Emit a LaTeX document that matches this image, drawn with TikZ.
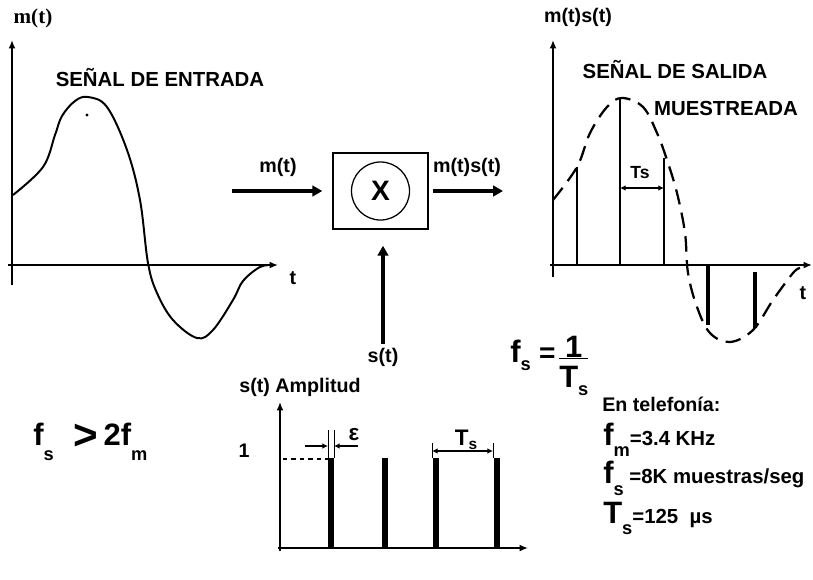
\documentclass[tikz,border=0pt]{standalone}
\usepackage{fontspec}
\setmainfont{Liberation Sans}
\newfontfamily\serifbf{Liberation Serif}
\usetikzlibrary{arrows.meta,positioning,calc}
\newcommand{\fsub}[3][7pt]{{\fontsize{22}{24}\selectfont #2}\raisebox{-#1}{\fontsize{13}{14}\selectfont #3}}

\begin{document}
\begin{tikzpicture}[x=0.025cm, y=-0.025cm,
    lbl/.style={font=\bfseries\fontsize{14}{16}\selectfont, inner sep=0pt},
    title/.style={font=\bfseries\fontsize{14.5}{17}\selectfont, inner sep=0pt},
    big/.style={font=\bfseries, inner sep=0pt, anchor=base west},
    axis/.style={line width=1.8pt, -{Latex[length=6pt,width=5pt]}},
    sigarr/.style={line width=2.4pt, -{Triangle[length=7pt,width=7.5pt]}},
    dimarr/.style={line width=1.3pt, {Latex[length=4pt,width=4pt]}-{Latex[length=4pt,width=4pt]}},
    sample/.style={line width=2pt},
    pulse/.style={line width=3.6pt}
]
    \useasboundingbox (0,0) rectangle (813,579);

    % senal de entrada
    \draw[axis] (12,285) -- (12,40);
    \draw[axis] (8,265) -- (278,265);
    \node[font=\serifbf\bfseries\fontsize{15}{17}\selectfont, inner sep=0pt] (mlbl) at (33,18) {m(t)};
    \node[title] (entrada) at (160,78) {SEÑAL DE ENTRADA};
    \node[lbl] (tl) at (293,278) {t};
    \draw[line width=1.4pt] plot[smooth, tension=0.6] coordinates {
        (13,195) (43,167) (55,135) (62,116) (75,101) (88,97) (107,107) (127,150)
        (140,200) (148,263) (157,293) (173,320) (197,338) (213,330) (233,300)
        (243,281) (260,267) (273,265)};
    \fill (87,115) circle (1.2pt);

    % multiplicador
    \node[draw, line width=1pt, minimum width=2.375cm, minimum height=1.9cm] (mult) at (380.5,191) {};
    \node[draw, circle, line width=0.9pt, minimum size=1.45cm, inner sep=0pt,
          font=\bfseries\fontsize{20}{22}\selectfont] (xcirc) at (mult.center) {X};
    \coordinate (min) at (232,191);
    \coordinate (mout) at (503,191);
    \node[lbl] (minlbl) at (278,167) {m(t)};
    \node[lbl] (moutlbl) at (467,167) {m(t)s(t)};
    \node[lbl] (stin) at (383,357) {s(t)};
    \draw[sigarr, shorten >=0.25cm] (min) -- (mult.west);
    \draw[sigarr, shorten <=0.1cm] (mult.east) -- (mout);
    \draw[sigarr, shorten >=0.4cm, shorten <=0.1cm] (stin.north) -- (stin.north |- mult.south);

    % senal de salida muestreada
    \draw[axis] (553,277) -- (553,40);
    \draw[axis] (550,265) -- (812,265);
    \node[lbl] (mslbl) at (578,17) {m(t)s(t)};
    \node[title] (salida) at (675,70) {SEÑAL DE SALIDA};
    \node[title] (muestreada) at (726,108) {MUESTREADA};
    \node[lbl] (tr) at (803,293) {t};
    \draw[line width=1.6pt, dash pattern=on 11pt off 6pt] plot[smooth, tension=0.6] coordinates {
        (553,200) (577,167) (590,133) (607,107) (622,98) (643,107) (657,133)
        (667,160) (677,193) (685,233) (688,273) (697,307) (710,333) (730,342)
        (753,330) (773,300) (793,273) (800,268)};
    \draw[sample] (577,265) -- (577,167);
    \draw[sample] (620,265) -- (620,98);
    \draw[sample] (664,265) -- (664,158);
    \draw[pulse, line width=2.8pt] (708,265) -- (708,325);
    \draw[pulse, line width=2.8pt] (755,272) -- (755,328);
    \coordinate (tsa) at (620,188);
    \coordinate (tsb) at (664,188);
    \draw[dimarr] (tsa) -- (tsb);
    \node[lbl, font=\bfseries\fontsize{12.5}{14}\selectfont] (tslbl) at (640,173) {Ts};

    % tren de pulsos s(t)
    \draw[axis] (280,551) -- (280,402);
    \draw[axis] (278,548) -- (528,548);
    \node[lbl] (amp) at (300,387) {s(t) Amplitud};
    \node[lbl] (uno) at (244,451) {1};
    \draw[line width=1.2pt, dashed] (283,459) -- (328,459);
    \foreach \px in {331,385,436,497}
        \draw[pulse] (\px,548) -- (\px,458);
    % ancho del pulso
    \draw[line width=0.7pt] (328,430) -- (328,458);
    \draw[line width=0.7pt] (334,430) -- (334,458);
    \coordinate (ea) at (305,446);
    \coordinate (eb) at (358,446);
    \draw[line width=1.3pt, -{Latex[length=4pt,width=4pt]}] (ea) -- (328,446);
    \draw[line width=1.3pt, -{Latex[length=4pt,width=4pt]}] (eb) -- (334,446);
    \node[font=\bfseries\fontsize{16}{17}\selectfont, inner sep=0pt] (eps) at (354,435) {ε};
    % periodo
    \draw[line width=0.7pt] (432,443) -- (432,458);
    \draw[line width=0.7pt] (493,443) -- (493,458);
    \draw[dimarr] (432,451) -- (493,451);
    \node[inner sep=0pt, font=\bfseries] (tsp) at (466,440)
        {{\fontsize{16}{18}\selectfont T}\raisebox{-3pt}{\fontsize{11}{12}\selectfont s}};

    % formulas
    \node[big] (nyq) at (33,445)
        {\fsub[11pt]{f}{s}\hspace{14pt}\raisebox{-3.5pt}{\fontsize{30}{30}\selectfont >}\hspace{4pt}\fsub[11pt]{2f}{m}};
    \node[big] (fsdef) at (510,362) {\fsub[6pt]{f}{s}\hspace{6pt}{\fontsize{20}{20}\selectfont =}};
    \node[inner sep=0pt, font=\bfseries, anchor=west] (frac) at (559,366)
        {\begin{tabular}{@{}c@{}}{\fontsize{22}{22}\selectfont 1}\\[-3pt]\hline\rule{0pt}{20pt}\fsub[6pt]{T}{s}\end{tabular}};

    % telefonia
    \node[title, anchor=west, font=\bfseries\fontsize{14}{16}\selectfont] (tel) at (602,404) {En telefonía:};
    \node[big] (fm) at (603,445) {\fsub[8pt]{f}{m}{\fontsize{14.5}{16}\selectfont =3.4 KHz}};
    \node[big] (fs) at (603,483) {\fsub[9pt]{f}{s}\hspace{4pt}{\fontsize{14.5}{16}\selectfont =8K muestras/seg}};
    \node[big] (ts) at (603,523) {\fsub[8pt]{T}{s}{\fontsize{14.5}{16}\selectfont =125\hspace{8pt}µs}};
\end{tikzpicture}
\end{document}
